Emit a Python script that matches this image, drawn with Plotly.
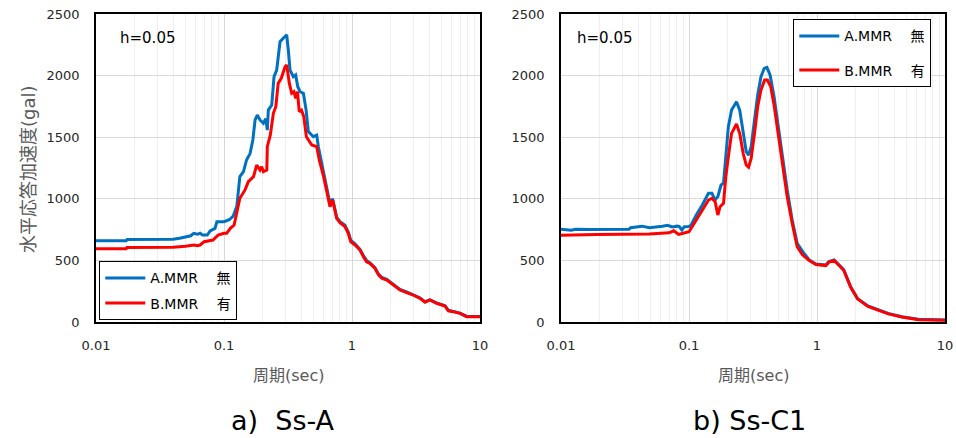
import plotly.graph_objects as go

# ---------------- data ----------------
# Ss-A (left)
t_a_blue = [0.01, 0.0172, 0.0175, 0.040, 0.045, 0.05, 0.055, 0.058, 0.062, 0.065, 0.068, 0.074, 0.078,
            0.085, 0.088, 0.1, 0.11, 0.118, 0.126, 0.133, 0.142, 0.150, 0.160, 0.168, 0.175, 0.182,
            0.191, 0.203, 0.212, 0.218, 0.222, 0.236, 0.246, 0.258, 0.274, 0.29, 0.309, 0.318, 0.328,
            0.348, 0.363, 0.377, 0.393, 0.417, 0.438, 0.456, 0.499, 0.53, 0.546, 0.58, 0.615, 0.673,
            0.706, 0.736, 0.759, 0.806, 0.881, 0.935, 0.977, 1.055, 1.155, 1.227, 1.30, 1.38, 1.51,
            1.61, 1.71, 1.87, 2.10, 2.37, 2.67, 3.01, 3.40, 3.72, 4.06, 4.58, 5.33, 5.66, 6.19, 6.98,
            7.87, 10]
v_a_blue = [660, 660, 670, 672, 680, 690, 700, 720, 712, 720, 706, 706, 740,
            760, 814, 814, 830, 860, 940, 1180, 1220, 1315, 1369, 1477, 1640, 1680,
            1640, 1613, 1650, 1558, 1720, 1761, 1991, 2045, 2275, 2303, 2330, 2208, 2045,
            1991, 2005, 1910, 1869, 1856, 1720, 1545, 1504, 1517, 1423, 1288, 1150, 960,
            1000, 920, 850, 815, 785, 730, 665, 635, 590, 540, 500, 480, 440,
            390, 362, 346, 305, 265, 245, 222, 195, 165, 180, 155, 132, 95, 86, 72,
            45, 45]

t_a_red = [0.01, 0.0172, 0.0175, 0.04, 0.05, 0.058, 0.062, 0.065, 0.07, 0.082, 0.09, 0.1, 0.105, 0.112,
           0.12, 0.127, 0.133, 0.146, 0.155, 0.17, 0.18, 0.191, 0.197, 0.203, 0.216, 0.218, 0.23, 0.243,
           0.254, 0.265, 0.28, 0.3, 0.309, 0.324, 0.338, 0.352, 0.363, 0.375, 0.387, 0.403, 0.42, 0.44,
           0.485, 0.53, 0.555, 0.6, 0.615, 0.673, 0.706, 0.736, 0.759, 0.806, 0.881, 0.935, 0.977, 1.055,
           1.155, 1.227, 1.30, 1.38, 1.51, 1.61, 1.71, 1.87, 2.10, 2.37, 2.67, 3.01, 3.40, 3.72, 4.06,
           4.58, 5.33, 5.66, 6.19, 6.98, 7.87, 10]
v_a_red = [595, 595, 605, 607, 615, 625, 620, 625, 652, 665, 706, 720, 720, 760,
           787, 923, 1004, 1072, 1139, 1180, 1274, 1234, 1261, 1220, 1234, 1423, 1517, 1694,
           1747, 1937, 1978, 2072, 2086, 1937, 1856, 1869, 1815, 1869, 1707, 1720, 1667, 1504,
           1437, 1423, 1315, 1180, 1126, 936, 990, 909, 841, 807, 774, 720, 652, 625,
           584, 530, 489, 476, 436, 382, 355, 341, 300, 260, 238, 219, 192, 160, 179,
           152, 130, 90, 84, 70, 43, 43]

# Ss-C1 (right)
t_c_blue = [0.01, 0.012, 0.013, 0.015, 0.017, 0.034, 0.035, 0.043, 0.049, 0.062, 0.068, 0.074, 0.081,
            0.084, 0.088, 0.092, 0.1, 0.104, 0.114, 0.127, 0.142, 0.151, 0.16, 0.168, 0.178, 0.186,
            0.192, 0.203, 0.215, 0.235, 0.249, 0.265, 0.28, 0.292, 0.306, 0.325, 0.344, 0.365, 0.387,
            0.406, 0.43, 0.462, 0.49, 0.535, 0.585, 0.64, 0.70, 0.79, 0.87, 0.98, 1.17, 1.24, 1.36,
            1.49, 1.62, 1.83, 2.07, 2.5, 3.05, 3.6, 4.6, 6.2, 10]
v_c_blue = [752, 745, 752, 748, 750, 752, 765, 778, 765, 778, 785, 772, 778,
            774, 747, 774, 775, 787, 868, 950, 1045, 1045, 990, 1018, 1112, 1126,
            1315, 1585, 1720, 1788, 1720, 1531, 1382, 1355, 1423, 1640, 1842, 1991, 2059,
            2067, 2005, 1829, 1640, 1396, 1071, 828, 639, 558, 504, 471, 463, 490, 504,
            463, 423, 287, 192, 130, 98, 70, 43, 22, 16]

t_c_red = [0.01, 0.018, 0.019, 0.049, 0.07, 0.076, 0.083, 0.09, 0.1, 0.114, 0.127, 0.142, 0.151, 0.16,
           0.168, 0.175, 0.186, 0.194, 0.203, 0.215, 0.235, 0.249, 0.265, 0.28, 0.292, 0.306, 0.325,
           0.344, 0.365, 0.39, 0.41, 0.435, 0.462, 0.49, 0.535, 0.585, 0.64, 0.70, 0.77, 0.87, 0.98,
           1.17, 1.24, 1.36, 1.49, 1.62, 1.83, 2.07, 2.5, 3.05, 3.6, 4.6, 6.2, 10]
v_c_red = [705, 705, 711, 715, 724, 740, 711, 720, 733, 828, 909, 990, 1004, 977,
           868, 936, 963, 1180, 1342, 1531, 1607, 1531, 1369, 1274, 1256, 1328, 1531,
           1747, 1883, 1964, 1964, 1910, 1761, 1585, 1315, 1017, 801, 611, 545, 498, 466,
           458, 486, 500, 458, 418, 283, 188, 126, 94, 66, 40, 19, 14]

x_tickvals = [0.01, 0.1, 1, 10]
x_ticktext = ["0.01", "0.1", "1", "10"]
y_tickvals = [0, 500, 1000, 1500, 2000, 2500]
name_a = "A.MMR\u3000 無"
name_b = "B.MMR\u3000 有"
damping_label = "h=0.05"
x_title = "周期(sec)"
y_title = "水平応答加速度(gal)"
sub_left = "a)  Ss-A"
sub_right = "b) Ss-C1"

# ---------------- figure ----------------
W, H = 956, 438
BLUE = "#0070C0"
RED = "#FF0000"
FONT = "DejaVu Sans, Noto Sans CJK JP, sans-serif"

fig = go.Figure()

def add(tx, vy, name, color, xa, ya, legend, group, show=True):
    fig.add_trace(go.Scatter(x=tx, y=vy, mode="lines", name=name, legend=legend,
                             legendgroup=group, showlegend=show,
                             line=dict(color=color, width=3, shape="linear"),
                             xaxis=xa, yaxis=ya))

add(t_a_blue, v_a_blue, name_a, BLUE, "x", "y", "legend", "a")
add(t_a_red, v_a_red, name_b, RED, "x", "y", "legend", "b")
add(t_c_blue, v_c_blue, name_a, BLUE, "x2", "y2", "legend2", "c")
add(t_c_red, v_c_red, name_b, RED, "x2", "y2", "legend2", "d")

minor_vals = [m * 10 ** e for e in (-2, -1, 0) for m in range(2, 10)]

def xaxis(domain, anchor):
    return dict(type="log", range=[-2, 1], domain=domain, anchor=anchor,
                tickmode="array", tickvals=x_tickvals, ticktext=x_ticktext,
                showgrid=True, gridcolor="#D9D9D9", gridwidth=1,
                minor=dict(tickmode="array", tickvals=minor_vals, showgrid=True,
                           gridcolor="#EFEFEF", gridwidth=1, ticks=""),
                showline=True, linecolor="black", linewidth=1.6, mirror=True,
                ticks="outside", ticklen=11, tickcolor="rgba(0,0,0,0)",
                tickfont=dict(family=FONT, size=13, color="#262626"),
                zeroline=False, fixedrange=True, automargin=False)

def yaxis(anchor):
    return dict(range=[0, 2500], domain=[116 / H, 424 / H], anchor=anchor,
                tickmode="array", tickvals=y_tickvals,
                showgrid=True, gridcolor="#D9D9D9", gridwidth=1,
                showline=True, linecolor="black", linewidth=1.6, mirror=True,
                ticks="outside", ticklen=12, tickcolor="rgba(0,0,0,0)",
                tickfont=dict(family=FONT, size=13, color="#262626"),
                zeroline=False, fixedrange=True, automargin=False)

legend_common = dict(bgcolor="white", bordercolor="black", borderwidth=1.3,
                     font=dict(family=FONT, size=14, color="black"),
                     traceorder="grouped", itemwidth=40,
                     xanchor="left", yanchor="top")

fig.update_layout(
    width=W, height=H, margin=dict(l=0, r=0, t=0, b=0, autoexpand=False),
    paper_bgcolor="white", plot_bgcolor="white",
    xaxis=xaxis([96 / W, 480 / W], "y"),
    yaxis=yaxis("x"),
    xaxis2=xaxis([561 / W, 945 / W], "y2"),
    yaxis2=yaxis("x2"),
    legend=dict(x=99 / W, y=1 - 261 / H, tracegroupgap=4, **legend_common),
    legend2=dict(x=793 / W, y=1 - 19 / H, tracegroupgap=13, **legend_common),
    showlegend=True,
)

def ann(text, x, y, size, color="black", xanchor="center", textangle=0):
    fig.add_annotation(text=text, x=x / W, y=1 - y / H, xref="paper", yref="paper",
                       showarrow=False, xanchor=xanchor, yanchor="middle",
                       textangle=textangle,
                       font=dict(family=FONT, size=size, color=color))

ann(damping_label, 118, 38, 15, xanchor="left")
ann(damping_label, 575, 38, 15, xanchor="left")
ann(x_title, 288, 375, 16, color="#595959")
ann(x_title, 753, 375, 16, color="#595959")
ann(y_title, 28, 169, 18, color="#595959", textangle=-90)
ann(sub_left, 283, 420, 27)
ann(sub_right, 749, 420, 27)

fig.write_html("out.html", config={"displayModeBar": False},
               post_script="document.body.style.margin='0px';document.body.style.overflow='hidden';")
